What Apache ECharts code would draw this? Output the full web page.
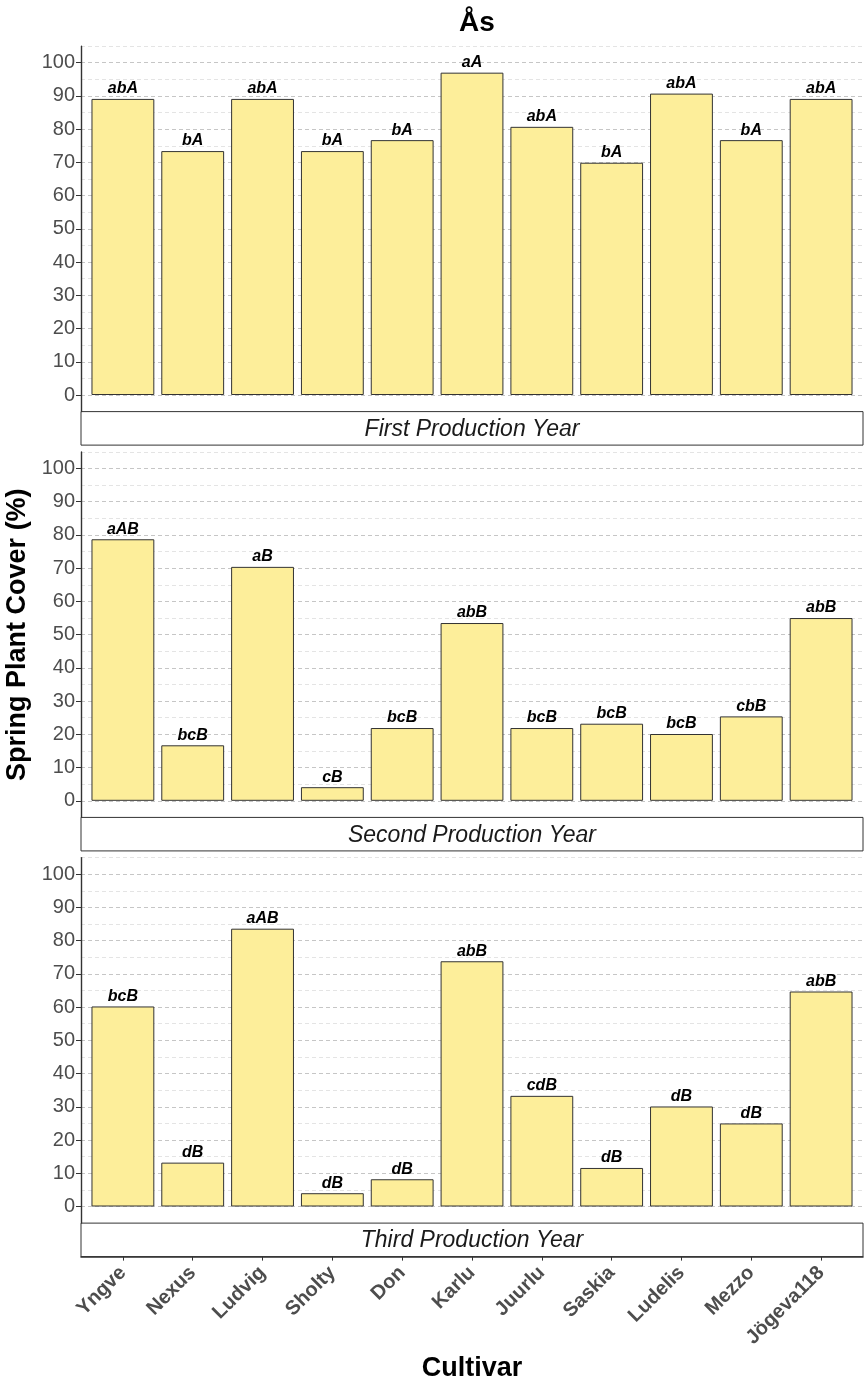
<!DOCTYPE html>
<html>
<head>
<meta charset="utf-8">
<title>Ås – Spring Plant Cover</title>
<script src="https://cdn.jsdelivr.net/npm/echarts@6/dist/echarts.min.js"></script>
<style>
  html, body { margin: 0; padding: 0; background: #fff; }
  #chart { width: 864px; height: 1385px; }
</style>
</head>
<body>
<div id="chart"></div>
<script>
// Cultivars on the x axis
const cultivars = ['Yngve', 'Nexus', 'Ludvig', 'Sholty', 'Don', 'Karlu', 'Juurlu', 'Saskia', 'Ludelis', 'Mezzo', 'Jögeva118'];

// Spring plant cover (%) per production year
const year1 = [89.1, 73.4, 89.1, 73.4, 76.7, 97.0, 80.7, 69.9, 90.7, 76.7, 89.1];
const year2 = [78.7, 16.7, 70.4, 4.1, 21.9, 53.5, 21.9, 23.2, 20.1, 25.4, 55.0];
const year3 = [60.2, 13.2, 83.6, 4.0, 8.2, 73.8, 33.3, 11.6, 30.1, 25.0, 64.7];

// Significance letters shown above each bar
const letters1 = ['abA', 'bA', 'abA', 'bA', 'bA', 'aA', 'abA', 'bA', 'abA', 'bA', 'abA'];
const letters2 = ['aAB', 'bcB', 'aB', 'cB', 'bcB', 'abB', 'bcB', 'bcB', 'bcB', 'cbB', 'abB'];
const letters3 = ['bcB', 'dB', 'aAB', 'dB', 'dB', 'abB', 'cdB', 'dB', 'dB', 'dB', 'abB'];

// Facet strip titles
const panelTitles = ['First Production Year', 'Second Production Year', 'Third Production Year'];

// Y axis ticks
const yMin = 0, yMax = 100, yStep = 10;

const values = [year1, year2, year3];
const letters = [letters1, letters2, letters3];

const FONT = "'Liberation Sans', Arial, Helvetica, sans-serif";

// Layout of each facet
const plotLeft = 81, plotRight = 863;
const plotW = plotRight - plotLeft;
const band = plotW / 11.2;                            // discrete scale with 0.6 padding each side
const barLeft = plotLeft + 0.1 * band;
const barWidthPx = 11 * band;
const unitH = 3.323;                                  // pixels per percent
const span = 100 * unitH;
const panelTop100 = [62.7, 468.5, 874.2];             // y pixel of the 100 line
const pad = 5 * unitH;                                 // panel expansion beyond 0..100
const stripH = 33.5;

const grids = [], xAxes = [], yAxes = [], series = [], graphics = [];

function addGrid(g) {
  grids.push(Object.assign({ outerBoundsMode: 'none', containLabel: false }, g));
  return grids.length - 1;
}
const hiddenAxis = { axisLine: { show: false }, axisTick: { show: false }, axisLabel: { show: false }, splitLine: { show: false } };

panelTitles.forEach((pt, i) => {
  const top100 = panelTop100[i];
  const y0 = top100 + span;
  const sTop = y0 + pad;

  // background panel: left axis line and dashed grid lines over -5..105
  const pIdx = addGrid({ left: plotLeft, width: plotW, top: top100 - pad, height: span + 2 * pad });
  xAxes.push(Object.assign({ gridIndex: pIdx, type: 'value', min: 0, max: 1 }, hiddenAxis));
  yAxes.push({
    gridIndex: pIdx, type: 'value', min: -5, max: 105, interval: 5,
    axisLine: { show: true, lineStyle: { color: '#333', width: 1.4 } },
    axisTick: { show: false }, axisLabel: { show: false },
    splitLine: {
      show: true, showMinLine: false,
      lineStyle: { color: ['#c6c6c6', '#e4e4e4'], type: [4, 3], width: 1 }
    }
  });

  // tick labels 0..100
  const lIdx = addGrid({ left: plotLeft, width: plotW, top: top100, height: span });
  xAxes.push(Object.assign({ gridIndex: lIdx, type: 'value', min: 0, max: 1 }, hiddenAxis));
  const ya = {
    gridIndex: lIdx, type: 'value', min: yMin, max: yMax, interval: yStep,
    axisLine: { show: false },
    axisTick: { show: true, length: 5, lineStyle: { color: '#333', width: 1 } },
    axisLabel: { fontFamily: FONT, fontSize: 20, color: '#4d4d4d', margin: 6 },
    splitLine: { show: false }
  };
  if (i === 1) {
    Object.assign(ya, {
      name: 'Spring Plant Cover (%)', nameLocation: 'middle', nameGap: 46, nameRotate: 90,
      nameTextStyle: { fontFamily: FONT, fontWeight: 'bold', fontSize: 27, color: '#000' }
    });
  }
  yAxes.push(ya);

  // bars
  const bIdx = addGrid({ left: barLeft, width: barWidthPx, top: top100, height: span });
  xAxes.push(Object.assign({ gridIndex: bIdx, type: 'category', data: cultivars, boundaryGap: true }, hiddenAxis));
  yAxes.push(Object.assign({ gridIndex: bIdx, type: 'value', min: yMin, max: yMax, interval: yStep }, hiddenAxis));
  series.push({
    type: 'bar', xAxisIndex: bIdx, yAxisIndex: bIdx,
    data: values[i], barWidth: '90%',
    itemStyle: { color: '#FDEE9A', borderColor: '#333', borderWidth: 1 },
    label: {
      show: true, position: 'top', distance: 2,
      formatter: p => letters[i][p.dataIndex],
      fontFamily: FONT, fontStyle: 'italic', fontWeight: 'bold', fontSize: 16, color: '#000'
    },
    silent: true
  });

  // facet strip below the panel
  const sIdx = addGrid({
    left: plotLeft, width: plotW, top: sTop, height: stripH,
    show: true, backgroundColor: '#fff', borderColor: '#333', borderWidth: 1
  });
  xAxes.push(Object.assign({ gridIndex: sIdx, type: 'value', min: 0, max: 1, position: 'bottom' }, hiddenAxis,
    i === 2 ? { axisLine: { show: true, onZero: false, lineStyle: { color: '#333', width: 1.6 } } } : {}));
  yAxes.push(Object.assign({ gridIndex: sIdx, type: 'value', min: 0, max: 1 }, hiddenAxis));
  graphics.push({
    type: 'text', silent: true, z: 100,
    x: plotLeft + plotW / 2, y: sTop + stripH / 2 + 1,
    style: {
      text: pt, fill: '#1a1a1a', font: `italic 23px ${FONT}`,
      textAlign: 'center', textVerticalAlign: 'middle'
    }
  });

  // cultivar names under the last strip
  if (i === 2) {
    const xIdx = addGrid({ left: barLeft, width: barWidthPx, top: sTop, height: stripH });
    xAxes.push({
      gridIndex: xIdx, type: 'category', data: cultivars, boundaryGap: true, position: 'bottom',
      axisLine: { show: false },
      axisTick: { show: true, alignWithLabel: true, length: 4, lineStyle: { color: '#333', width: 1 } },
      axisLabel: {
        show: true, interval: 0, rotate: 45, margin: 13,
        fontFamily: FONT, fontWeight: 'bold', fontSize: 20, color: '#4d4d4d'
      },
      splitLine: { show: false },
      name: 'Cultivar', nameLocation: 'middle', nameGap: 98,
      nameTextStyle: { fontFamily: FONT, fontWeight: 'bold', fontSize: 27, color: '#000' }
    });
    yAxes.push(Object.assign({ gridIndex: xIdx, type: 'value', min: 0, max: 1 }, hiddenAxis));
  }
});

const chart = echarts.init(document.getElementById('chart'), null, { renderer: 'canvas' });
chart.setOption({
  backgroundColor: '#fff',
  animation: false,
  title: {
    text: 'Ås', left: plotLeft + plotW / 2, top: 4, textAlign: 'center',
    textStyle: { fontFamily: FONT, fontWeight: 'bold', fontSize: 28, color: '#000' }
  },
  grid: grids,
  xAxis: xAxes,
  yAxis: yAxes,
  series: series,
  graphic: graphics
});
</script>
</body>
</html>
